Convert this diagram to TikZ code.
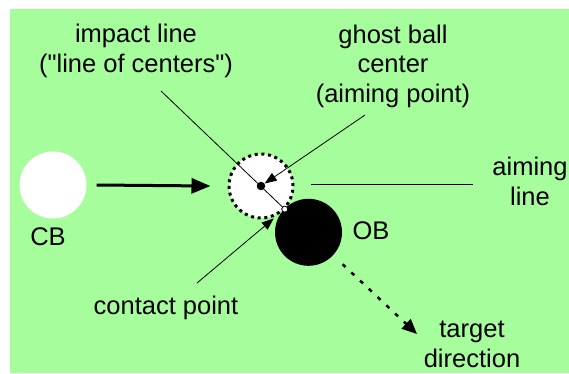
\documentclass[tikz,border=0pt]{standalone}
\usepackage{fontspec}
\setmainfont{Liberation Sans}
\usepackage{tikz}
\usetikzlibrary{positioning,arrows.meta,calc}
\definecolor{felt}{RGB}{166,253,156}

\begin{document}
\begin{tikzpicture}[x=1pt,y=-1pt,
  lbl/.style={font=\fontsize{25.5}{29.5}\selectfont,align=center,inner sep=0pt,anchor=base},
  ball/.style={circle,inner sep=0pt,minimum size=#1},
  thin/.style={line width=0.8pt},
  tip/.style={-{Triangle[length=12pt,width=9pt]}}]
\useasboundingbox (0,0) rectangle (569,373);
\fill[felt] (10,9) rectangle (569,373);
\node[ball=67pt,fill=white] (cb) at (53,185) {};
\node[ball=64pt,fill=white,draw,line width=3pt,dash pattern=on 3pt off 3.7pt] (gb) at (261,186) {};
\node[ball=67pt,fill=black] (ob) at (308.5,232.3) {};
\coordinate (il) at (161,91);
\coordinate (gp) at (365,115);
\coordinate (cl) at (197,283);
\coordinate (al) at (311,184);
\coordinate (ar) at (473,184);
\coordinate (td) at (417,334);
\node[ball=6pt,draw,thin,fill=white] (cp) at ($(gb.center)!0.5!(ob.center)$) {};
\draw[thin] (il) -- (cp);
\node[ball=8.5pt,fill=black] (gc) at (gb.center) {};
\draw[thin,tip] (gp) -- (gc);
\draw[thin,tip,shorten >=11pt] (cl) -- (cp);
\draw[thin] (al) -- (ar);
\draw[line width=3pt,-{Triangle[length=19pt,width=15pt]}] ([xshift=10pt]cb.east) -- ([xshift=-17pt]gb.west);
\draw[line width=2.5pt,dash pattern=on 4pt off 8pt,-{Triangle[length=15pt,width=13pt]},shorten <=13pt] (ob) -- (td);
\node[lbl] (impact) at (136,72) {impact line\\(\textquotedbl line of centers\textquotedbl)};
\node[lbl] (ghost) at (393,102) {ghost ball\\center\\(aiming point)};
\node[lbl] (aiming) at (530,205) {aiming\\line};
\node[lbl] (cbl) at (48,245) {CB};
\node[lbl] (obl) at (371,239) {OB};
\node[lbl] (contact) at (166,314) {contact point};
\node[lbl] (target) at (472,367) {target\\direction};
\end{tikzpicture}
\end{document}
